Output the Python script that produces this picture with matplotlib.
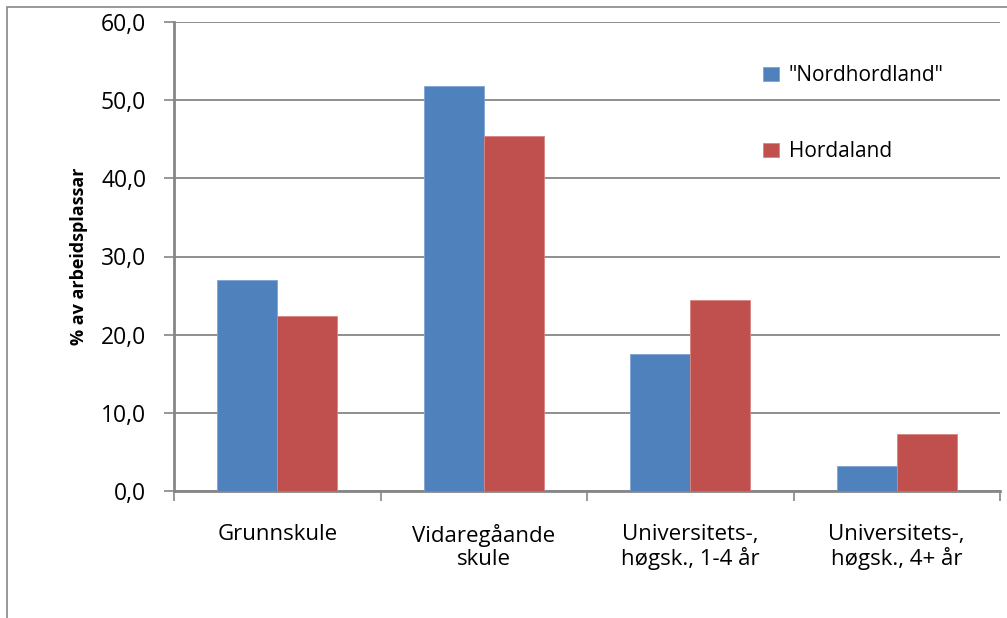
import matplotlib.pyplot as plt
import matplotlib.patches as mpatches
import numpy as np

categories = ["Grunnskule", "Vidaregåande\nskule", "Universitets-,\nhøgsk., 1-4 år", "Universitets-,\nhøgsk., 4+ år"]
nordhordland = [27.0, 51.8, 17.5, 3.2]
hordaland = [22.4, 45.4, 24.4, 7.3]
yticks = [0, 10, 20, 30, 40, 50, 60]

plt.rcParams['font.family'] = ['Open Sans', 'DejaVu Sans']
grey = '#868686'

fig = plt.figure(figsize=(10.07, 6.18), dpi=100)
ax = fig.add_axes([174 / 1007, 1 - 491 / 618, (1000 - 174) / 1007, (491 - 22) / 618])

x = np.arange(len(categories))
w = 0.29
ax.bar(x - w / 2, nordhordland, w, color='#4F81BD', edgecolor='#7FA3D3', linewidth=0.6,
       label='"Nordhordland"', zorder=3)
ax.bar(x + w / 2, hordaland, w, color='#C0504D', edgecolor='#D98583', linewidth=0.6,
       label='Hordaland', zorder=3)

ax.set_xlim(-0.5, len(categories) - 0.5)
ax.set_ylim(0, 60)
ax.set_yticks(yticks)
ax.set_yticklabels([f"{v:.1f}".replace('.', ',') for v in yticks], fontsize=16.5)
ax.yaxis.grid(True, color=grey, linewidth=1.3, zorder=0)

ax.set_xticks(x)
ax.set_xticklabels(categories, fontsize=16, linespacing=1.1)
ax.set_xticks(np.arange(-0.5, len(categories)), minor=True)
ax.tick_params(axis='x', which='major', length=0, pad=24)
ax.tick_params(axis='x', which='minor', length=7, width=1.2, color=grey)
ax.tick_params(axis='y', length=7, width=1.2, color=grey, pad=13)

for s in ['top', 'right']:
    ax.spines[s].set_visible(False)
for s in ['left', 'bottom']:
    ax.spines[s].set_color(grey)
    ax.spines[s].set_linewidth(2)

ax.set_ylabel('% av arbeidsplassar', fontsize=13, fontweight='bold', labelpad=9)

ax.legend(loc='upper left', bbox_to_anchor=(0.69, 0.948), frameon=False, fontsize=15,
          labelspacing=2.65, handlelength=0.8, handleheight=0.65, handletextpad=0.45)

fig.patches.append(mpatches.Rectangle((7 / 1007, -0.1), 1.2, 1.1 - 7 / 618, transform=fig.transFigure,
                                      fill=False, edgecolor=grey, linewidth=1.2))

fig.savefig('out.png', dpi=100)
